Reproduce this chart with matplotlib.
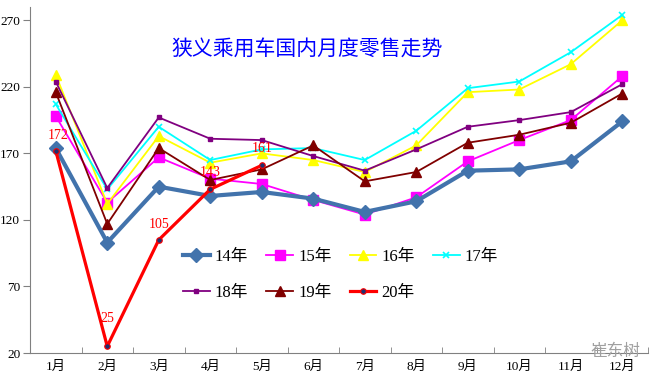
import matplotlib
matplotlib.use('Agg')
import matplotlib.pyplot as plt
import numpy as np

# Monthly retail sales of passenger cars (10k units)
months = ['1月', '2月', '3月', '4月', '5月', '6月', '7月', '8月', '9月', '10月', '11月', '12月']
y14 = [174, 103, 145, 138, 141, 136, 126, 134, 157, 158, 164, 194]
y15 = [198, 133, 167, 151, 147, 135, 124, 137, 164, 180, 195, 228]
y16 = [229, 132, 183, 163, 170, 165, 156, 176, 216, 218, 237, 270]
y17 = [207, 143, 190, 165, 173, 174, 165, 187, 219, 224, 246, 274]
y18 = [224, 144, 197, 181, 180, 168, 157, 173, 190, 195, 201, 222]
y19 = [216, 117, 174, 150, 158, 176, 149, 156, 178, 184, 193, 215]
y20 = [172, 25, 105, 143, 161]

title = '狭义乘用车国内月度零售走势'
cjk = ['Noto Sans CJK SC', 'DejaVu Sans']
serif = ['Liberation Serif', 'Noto Sans CJK SC']

fig = plt.figure(figsize=(6.6, 3.8), dpi=100)
ax = fig.add_axes([30 / 660, 1 - 353 / 380, 618 / 660, 346 / 380])

x = np.arange(1, 13)
h14, = ax.plot(x, y14, color='#4273AC', lw=3, marker='D', ms=7, label='14年', zorder=5)
h15, = ax.plot(x, y15, color='#FF00FF', lw=1.3, marker='s', ms=6.5, label='15年')
h16, = ax.plot(x, y16, color='#FFFF00', lw=1.3, marker='^', ms=7, label='16年')
h17, = ax.plot(x, y17, color='#00FFFF', lw=1.3, marker='x', ms=4, mew=1.2, label='17年')
h18, = ax.plot(x, y18, color='#800080', lw=1.3, marker='s', ms=3.5, label='18年')
h19, = ax.plot(x, y19, color='#800000', lw=1.3, marker='^', ms=7, label='19年')
h20, = ax.plot(x[:len(y20)], y20, color='#FF0000', lw=2.3, marker='o', ms=4,
               mfc='#1F2F6F', mec='#FF0000', mew=0.8, label='20年', zorder=6)

# red value labels for 2020
offs = [11, 20, 11, 12, 12]
for xi, v, o in zip(x, y20, offs):
    ax.annotate(str(v), (xi, v), xytext=(2 if v == 172 else 0, o), textcoords='offset points',
                ha='center', va='center', color='#FF0000', fontsize=10, family=serif)

ax.set_xlim(0.5, 12.5)
ax.set_ylim(20, 280)
ax.set_yticks([20, 70, 120, 170, 220, 270])
ax.set_xticks(x)
ax.set_xticklabels(months)
ax.set_xticks(np.arange(0.5, 13, 1), minor=True)
ax.tick_params(axis='x', which='major', length=0, pad=6)
ax.tick_params(axis='x', which='minor', direction='in', length=4, color='#808080')
ax.tick_params(axis='y', direction='out', length=5, color='#808080', pad=2)
for lab in ax.get_xticklabels() + ax.get_yticklabels():
    lab.set_family(serif)
    lab.set_fontsize(9.5)
for s in ['top', 'right']:
    ax.spines[s].set_visible(False)
for s in ['left', 'bottom']:
    ax.spines[s].set_color('#808080')

ax.text(0.448, 0.88, title, transform=ax.transAxes, ha='center', va='center',
        color='#0000FF', fontsize=15, family=cjk)

# legend filled row by row: 14 15 16 17 / 18 19 20
handles = [h14, h18, h15, h19, h16, h20, h17]
ax.legend(handles=handles, labels=[h.get_label() for h in handles], ncol=4, frameon=False,
          loc='upper left', bbox_to_anchor=(168 / 660, 1 - 234 / 380),
          bbox_transform=fig.transFigure, prop={'family': serif, 'size': 12},
          handlelength=1.6, handletextpad=0.3, columnspacing=1.1, labelspacing=1.2)

fig.text(0.97, 0.075, '崔东树', ha='right', va='center', color='#A0A0A0', fontsize=12, family=cjk)

fig.savefig('out.png', dpi=100)
